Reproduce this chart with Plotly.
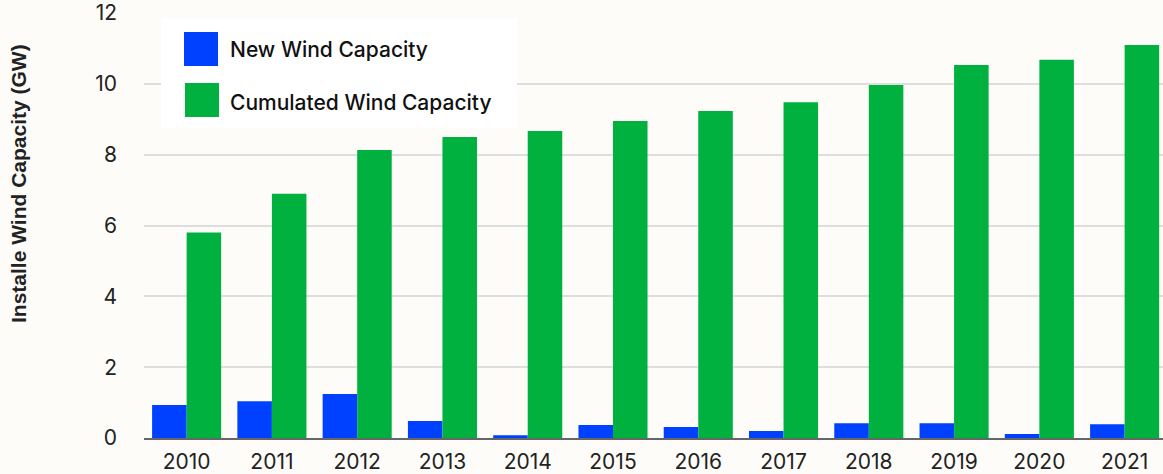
import plotly.graph_objects as go

# données
years = ["2010", "2011", "2012", "2013", "2014", "2015",
         "2016", "2017", "2018", "2019", "2020", "2021"]
new_capacity = [0.93, 1.04, 1.24, 0.48, 0.08, 0.37, 0.31, 0.20, 0.42, 0.42, 0.11, 0.39]
cumulated_capacity = [5.8, 6.9, 8.13, 8.5, 8.67, 8.95, 9.23, 9.48, 9.97, 10.53, 10.68, 11.1]

BLUE = "#0041ff"
GREEN = "#00b140"
BG = "#fdfcf8"

fig = go.Figure()

fig.add_trace(go.Bar(x=years, y=new_capacity, name="New Wind Capacity",
                     marker=dict(color=BLUE, line=dict(width=0))))
fig.add_trace(go.Bar(x=years, y=cumulated_capacity, name="Cumulated Wind Capacity",
                     marker=dict(color=GREEN, line=dict(width=0))))

W, H = 1163, 474
L, R, T, B = 144, 0, 13, 36
pw, ph = W - L - R, H - T - B


# conversion pixels -> coordonnées papier
def px(x):
    return (x - L) / pw


def py(y):
    return (H - B - y) / ph


# légende dessinée à la main (carrés plus grands que ceux de plotly)
shapes = [
    dict(type="rect", xref="paper", yref="paper", x0=px(161), x1=px(517), y0=py(128), y1=py(18),
         fillcolor="white", line=dict(width=0), layer="above"),
    dict(type="rect", xref="paper", yref="paper", x0=px(184), x1=px(218), y0=py(66), y1=py(32),
         fillcolor=BLUE, line=dict(width=0), layer="above"),
    dict(type="rect", xref="paper", yref="paper", x0=px(185), x1=px(219), y0=py(117), y1=py(83),
         fillcolor=GREEN, line=dict(width=0), layer="above"),
]
legend_font = dict(family="Inter", size=21, color="#111", weight=500)
annotations = [
    dict(text="New Wind Capacity", xref="paper", yref="paper", x=px(228), y=py(49),
         xanchor="left", yanchor="middle", showarrow=False, font=legend_font),
    dict(text="Cumulated Wind Capacity", xref="paper", yref="paper", x=px(228), y=py(102),
         xanchor="left", yanchor="middle", showarrow=False, font=legend_font),
    dict(text="Installe Wind Capacity (GW)", xref="paper", yref="paper", x=px(18), y=py(184),
         xanchor="center", yanchor="middle", textangle=-90, showarrow=False,
         font=dict(family="Liberation Sans", size=21, color="#222", weight="bold")),
]

fig.update_layout(
    width=W, height=H,
    margin=dict(l=L, r=R, t=T, b=B, autoexpand=False),
    paper_bgcolor=BG, plot_bgcolor=BG,
    barmode="group", bargap=0.19, bargroupgap=0,
    showlegend=False,
    font=dict(family="Inter", size=21, color="#222"),
    shapes=shapes, annotations=annotations,
    xaxis=dict(type="category", range=[-0.5, 11.45], showgrid=False,
               showline=True, linecolor="#666", linewidth=2,
               ticks="", ticklabelstandoff=4),
    yaxis=dict(range=[0, 12], dtick=2, showgrid=True,
               gridcolor="#dedede", gridwidth=2, zeroline=False, showline=False,
               ticks="", ticklabelstandoff=26, ticklabeloverflow="allow"),
)

# pas de marge autour de la figure dans la page, pas de barre d'outils
fig.write_html("out.html", config={"displayModeBar": False},
               post_script="document.body.style.margin='0';")
